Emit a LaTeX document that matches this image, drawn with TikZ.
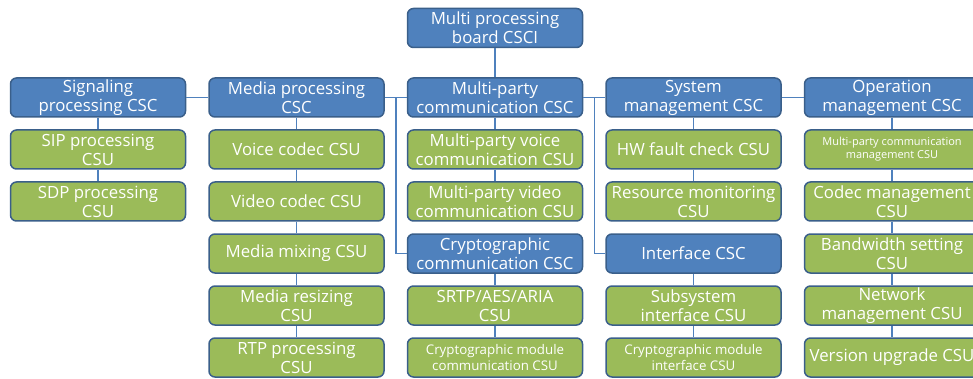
\documentclass[tikz,border=0pt]{standalone}
\usepackage{fontspec}
\setmainfont{Open Sans}
\usetikzlibrary{calc}
\usetikzlibrary{shapes,arrows}
\definecolor{cscblue}{HTML}{4F81BD}
\definecolor{csugreen}{HTML}{9BBB59}
\definecolor{boxline}{HTML}{3A5F8A}
\tikzstyle{csc} = [rectangle, draw=boxline, line width=1.5pt, fill=cscblue, text=white, align=center, minimum width=175pt, minimum height=39pt, rounded corners=6pt, inner sep=0pt, font=\fontsize{16.8}{19}\selectfont]
\tikzstyle{csu} = [csc, fill=csugreen]
\tikzstyle{small} = [font=\fontsize{13.3}{15.5}\selectfont]
\tikzstyle{tiny} = [font=\fontsize{11}{13}\selectfont]
\tikzstyle{line} = [draw=cscblue, line width=1.5pt]

\begin{document}
\begin{tikzpicture}[node distance = 52pt]
    \useasboundingbox (0pt,0pt) rectangle (973pt,-379pt);
    \node [csc] (board) at (495pt,-28pt) {Multi processing\\board CSCI};
    \node [csc, below of=board, node distance=69.5pt] (mpc) {Multi-party\\communication CSC};
    \node [csc, left of=mpc, node distance=198.5pt] (media) {Media processing\\CSC};
    \node [csc, left of=media, node distance=198.5pt] (signal) {Signaling\\processing CSC};
    \node [csc, right of=mpc, node distance=198.5pt] (sysman) {System\\management CSC};
    \node [csc, right of=sysman, node distance=198.5pt] (operman) {Operation\\management CSC};
    % signaling
    \node [csu, below of=signal] (sip) {SIP processing\\CSU};
    \node [csu, below of=sip] (sdp) {SDP processing\\CSU};
    % media
    \node [csu, below of=media] (voice) {Voice codec CSU};
    \node [csu, below of=voice] (video) {Video codec CSU};
    \node [csu, below of=video] (mixing) {Media mixing CSU};
    \node [csu, below of=mixing] (resizing) {Media resizing\\CSU};
    \node [csu, below of=resizing] (rtp) {RTP processing\\CSU};
    % multi-party
    \node [csu, below of=mpc] (mpvoice) {Multi-party voice\\communication CSU};
    \node [csu, below of=mpvoice] (mpvideo) {Multi-party video\\communication CSU};
    \node [csc, below of=mpvideo] (crypto) {Cryptographic\\communication CSC};
    \node [csu, below of=crypto] (srtp) {SRTP/AES/ARIA\\CSU};
    \node [csu, small, below of=srtp] (cryptocomm) {Cryptographic module\\communication CSU};
    % system
    \node [csu, below of=sysman] (hwfault) {HW fault check CSU};
    \node [csu, below of=hwfault] (resmon) {Resource monitoring\\CSU};
    \node [csc, below of=resmon] (iface) {Interface CSC};
    \node [csu, below of=iface] (subsys) {Subsystem\\interface CSU};
    \node [csu, small, below of=subsys] (cryptoif) {Cryptographic module\\interface CSU};
    % operation
    \node [csu, tiny, below of=operman] (mpman) {Multi-party communication\\management CSU};
    \node [csu, below of=mpman] (codecman) {Codec management\\CSU};
    \node [csu, below of=codecman] (bandwidth) {Bandwidth setting\\CSU};
    \node [csu, below of=bandwidth] (netman) {Network\\management CSU};
    \node [csu, below of=netman] (upgrade) {Version upgrade CSU};
    \coordinate (mbus) at ($(media.east)!0.5!(mpc.west)$);
    \coordinate (sbus) at ($(mpc.east)!0.5!(sysman.west)$);
    \path [line] (board) -- (mpc);
    \path [line] (signal) -- (media);
    \path [line] (media) -- (mpc);
    \path [line] (mpc) -- (sysman);
    \path [line] (sysman) -- (operman);
    \path [line] (mbus) |- (crypto.west);
    \path [line] (sbus) |- (iface.west);
    \path [line] (signal) -- (sip);
    \path [line] (sip) -- (sdp);
    \path [line] (media) -- (voice);
    \path [line] (voice) -- (video);
    \path [line] (video) -- (mixing);
    \path [line] (mixing) -- (resizing);
    \path [line] (resizing) -- (rtp);
    \path [line] (mpc) -- (mpvoice);
    \path [line] (mpvoice) -- (mpvideo);
    \path [line] (crypto) -- (srtp);
    \path [line] (srtp) -- (cryptocomm);
    \path [line] (sysman) -- (hwfault);
    \path [line] (hwfault) -- (resmon);
    \path [line] (iface) -- (subsys);
    \path [line] (subsys) -- (cryptoif);
    \path [line] (operman) -- (mpman);
    \path [line] (mpman) -- (codecman);
    \path [line] (codecman) -- (bandwidth);
    \path [line] (bandwidth) -- (netman);
    \path [line] (netman) -- (upgrade);
  \end{tikzpicture}
\end{document}
